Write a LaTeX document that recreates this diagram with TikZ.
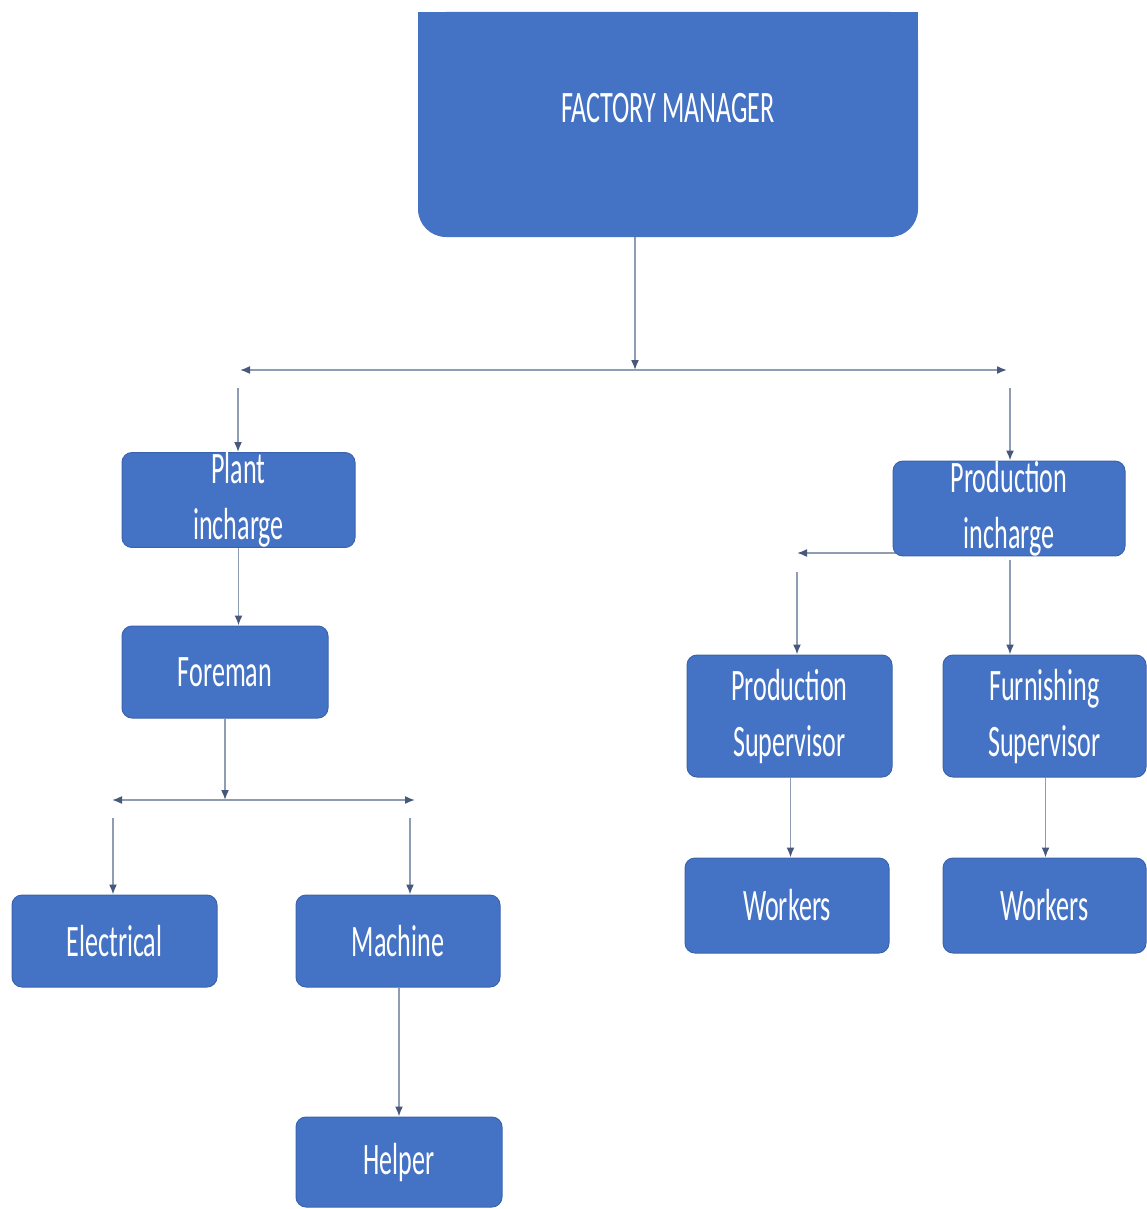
\documentclass[tikz,border=0pt]{standalone}
\usepackage{fontspec}
\setmainfont{Carlito}[FakeStretch=0.58]
\usetikzlibrary{arrows.meta,backgrounds}

\definecolor{boxblue}{HTML}{4472C4}
\definecolor{boxedge}{HTML}{3B64AE}
\definecolor{linegray}{HTML}{8E9CB4}
\definecolor{tipblue}{HTML}{47587A}

\tikzset{unit/.style = {shape=rectangle, fill=boxblue, draw=boxedge, line width=1pt,
    rounded corners=10pt, text=white, align=center, inner sep=0pt,
    font=\fontsize{45}{56}\selectfont}}
\tikzset{head/.style = {unit, draw=none, outer sep=0pt, rounded corners=28pt, inner ysep=0pt,
    text height=111pt, text depth=114pt}}
\tikzset{link/.style = {draw=linegray, line width=1.6pt,
    -{Latex[length=10pt,width=8pt,color=tipblue]}}}
\tikzset{hubline/.style = {link,
    {Latex[length=10pt,width=8pt,color=tipblue]}-{Latex[length=10pt,width=8pt,color=tipblue]}}}

\begin{document}
\begin{tikzpicture}[x=1pt, y=-1pt]
		\useasboundingbox (0,0) rectangle (1146,1209);
		% Nodes
		\node[head, minimum width=500pt] (mgr) at (668,124.5) {FACTORY MANAGER};
		\node[unit, minimum width=233pt, minimum height=94pt]  (plant)   at ( 238.5, 500.0) {Plant\\incharge};
		\node[unit, minimum width=206pt, minimum height=92pt]  (foreman) at ( 225.0, 672.0) {Foreman};
		\node[unit, minimum width=205pt, minimum height=92pt]  (elec)    at ( 114.5, 941.0) {Electrical};
		\node[unit, minimum width=204pt, minimum height=92pt]  (machine) at ( 398.0, 941.0) {Machine};
		\node[unit, minimum width=206pt, minimum height=90pt]  (helper)  at ( 399.0,1162.0) {Helper};
		\node[unit, minimum width=232pt, minimum height=93pt]  (prodinc) at (1009.0, 508.5) {Production\\incharge};
		\node[unit, minimum width=205pt, minimum height=122pt] (prodsup) at ( 789.5, 716.0) {Production\\Supervisor};
		\node[unit, minimum width=203pt, minimum height=122pt] (furnsup) at (1044.5, 716.0) {Furnishing\\Supervisor};
		\node[unit, minimum width=204pt, minimum height=95pt]  (work1)   at ( 787.0, 905.5) {Workers};
		\node[unit, minimum width=203pt, minimum height=95pt]  (work2)   at (1044.5, 905.5) {Workers};
		% Junctions
		\coordinate (mhub)  at ( 635, 370);
		\coordinate (mleft) at ( 240, 370);
		\coordinate (mright) at (1007, 370);
		\coordinate (pdrop) at ( 238, 388);
		\coordinate (qdrop) at (1010, 388);
		\coordinate (fhub)  at ( 225, 800);
		\coordinate (fleft) at ( 112, 800);
		\coordinate (fright) at ( 415, 800);
		\coordinate (edrop) at ( 113, 818);
		\coordinate (mdrop) at ( 410, 818);
		\coordinate (pjoin) at (1003, 553);
		\coordinate (pleft) at ( 797, 553);
		\coordinate (sdrop) at ( 797, 572);
		\coordinate (tdrop) at (1010, 560);
		% Arrows
		\begin{scope}[on background layer]
		\fill[boxblue] (mgr.north west) rectangle (mgr.east);
		\draw[link] (mhub |- mgr.south) -- (mhub);
		\draw[hubline] (mleft) -- (mright);
		\draw[link] (fhub |- foreman.south) -- (fhub);
		\draw[hubline] (fleft) -- (fright);
		\draw[link] (pjoin) -- (pleft);
		\foreach \from/\to in {pdrop/plant, qdrop/prodinc, edrop/elec, mdrop/machine,
		                       sdrop/prodsup, tdrop/furnsup}
			\draw[link] (\from) -- (\from |- \to.north);
		\draw[link] (plant.south) -- (plant.south |- foreman.north);
		\foreach \from/\to in {machine/helper, prodsup/work1, furnsup/work2}
			\draw[link] ([xshift=1pt]\from.south) -- ([xshift=1pt]\from.south |- \to.north);
		\end{scope}
\end{tikzpicture}
\end{document}
